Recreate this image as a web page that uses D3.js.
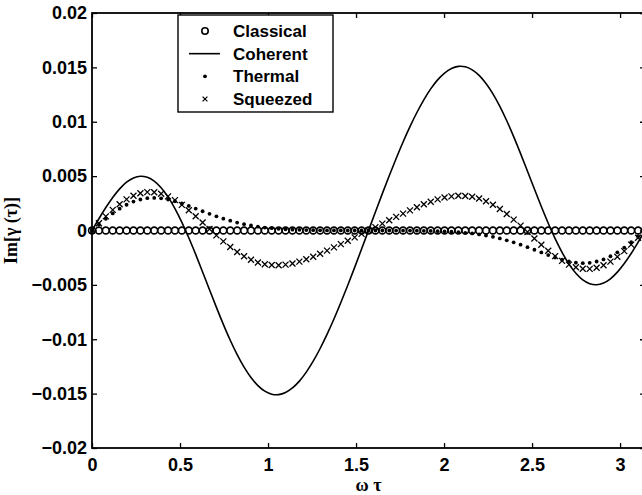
<!DOCTYPE html>
<html lang="en">
<head>
	<meta charset="UTF-8"/>
	<title>Im gamma(tau)</title>
	<script src="https://d3js.org/d3.v7.min.js"></script>
	<style>
	body { margin: 0; background: #fff; }
	.tick text { font-family: "Liberation Sans", Arial, sans-serif; font-weight: bold; font-size: 18px; fill: #000; }
	.tick line { stroke: #000; stroke-width: 1.3px; }
	</style>
</head>
<body>
	<div id="chart"></div>
	<script>

	// sample points: 81 points from 0 to pi
	var tau = d3.range(81).map(function(i) { return i * Math.PI / 80; });

	var classical = [
		0, 0, 0, 0, 0, 0, 0, 0, 0, 0, 0, 0, 0, 0, 0, 0, 0, 0, 0, 0,
		0, 0, 0, 0, 0, 0, 0, 0, 0, 0, 0, 0, 0, 0, 0, 0, 0, 0, 0, 0,
		0, 0, 0, 0, 0, 0, 0, 0, 0, 0, 0, 0, 0, 0, 0, 0, 0, 0, 0, 0,
		0, 0, 0, 0, 0, 0, 0, 0, 0, 0, 0, 0, 0, 0, 0, 0, 0, 0, 0, 0,
		0];

	var coherent = [
		0, 0.00108, 0.00211, 0.00304, 0.00383, 0.00444, 0.00483, 0.00499, 0.00489, 0.00454,
		0.00393, 0.00309, 0.00201, 0.00075, -0.00067, -0.00220, -0.00381, -0.00545, -0.00707, -0.00863,
		-0.01009, -0.01141, -0.01256, -0.01352, -0.01426, -0.01477, -0.01505, -0.01509, -0.01490, -0.01448,
		-0.01385, -0.01302, -0.01202, -0.01085, -0.00955, -0.00814, -0.00662, -0.00503, -0.00339, -0.00170,
		0,
		0.00170, 0.00339, 0.00503, 0.00662, 0.00814, 0.00955, 0.01085, 0.01202, 0.01302, 0.01385,
		0.01448, 0.01490, 0.01509, 0.01505, 0.01477, 0.01426, 0.01352, 0.01256, 0.01141, 0.01009,
		0.00863, 0.00707, 0.00545, 0.00381, 0.00220, 0.00067, -0.00075, -0.00201, -0.00309, -0.00393,
		-0.00454, -0.00489, -0.00499, -0.00483, -0.00444, -0.00383, -0.00304, -0.00211, -0.00108, 0];

	var thermal = [
		0, 0.00055, 0.00108, 0.00157, 0.00201, 0.00237, 0.00266, 0.00285, 0.00297, 0.00300,
		0.00296, 0.00285, 0.00269, 0.00249, 0.00226, 0.00202, 0.00177, 0.00153, 0.00130, 0.00109,
		0.00090, 0.00073, 0.00058, 0.00046, 0.00036, 0.00027, 0.00021, 0.00015, 0.00011, 0.00008,
		0.00006, 0.00004, 0.00003, 0.00002, 0.00001, 0.00001, 0.00001, 0, 0, 0,
		0,
		0, 0, 0, -0.00001, -0.00001, -0.00001, -0.00002, -0.00003, -0.00004, -0.00006,
		-0.00008, -0.00011, -0.00015, -0.00021, -0.00027, -0.00036, -0.00046, -0.00058, -0.00073, -0.00090,
		-0.00109, -0.00130, -0.00153, -0.00177, -0.00202, -0.00226, -0.00249, -0.00269, -0.00285, -0.00296,
		-0.00300, -0.00297, -0.00285, -0.00266, -0.00237, -0.00201, -0.00157, -0.00108, -0.00055, 0];

	var squeezed = [
		0, 0.00066, 0.00130, 0.00190, 0.00242, 0.00286, 0.00319, 0.00342, 0.00353, 0.00351,
		0.00338, 0.00314, 0.00279, 0.00236, 0.00186, 0.00131, 0.00073, 0.00014, -0.00045, -0.00100,
		-0.00152, -0.00198, -0.00237, -0.00269, -0.00294, -0.00310, -0.00318, -0.00320, -0.00314, -0.00303,
		-0.00286, -0.00265, -0.00241, -0.00214, -0.00185, -0.00155, -0.00125, -0.00094, -0.00063, -0.00031,
		0,
		0.00031, 0.00063, 0.00094, 0.00125, 0.00155, 0.00185, 0.00214, 0.00241, 0.00265, 0.00286,
		0.00303, 0.00314, 0.00320, 0.00318, 0.00310, 0.00294, 0.00269, 0.00237, 0.00198, 0.00152,
		0.00100, 0.00045, -0.00014, -0.00073, -0.00131, -0.00186, -0.00236, -0.00279, -0.00314, -0.00338,
		-0.00351, -0.00353, -0.00342, -0.00319, -0.00286, -0.00242, -0.00190, -0.00130, -0.00066, 0];

	var xTicks = [0, 0.5, 1, 1.5, 2, 2.5, 3];
	var yTicks = [-0.02, -0.015, -0.01, -0.005, 0, 0.005, 0.01, 0.015, 0.02];
	var legendLabels = ["Classical", "Coherent", "Thermal", "Squeezed"];

	// size
	var w = 642;
	var h = 495;
	var plotL = 92, plotR = 645, plotT = 13, plotB = 448;

	var xScale = d3.scaleLinear()
					.domain([0, Math.PI])
					.range([plotL, plotR]);

	var yScale = d3.scaleLinear()
					.domain([-0.02, 0.02])
					.range([plotB, plotT]);

	var fmt = d3.format("~g");

	var svg = d3.select("#chart")
			.append("svg")
			.attr("width", w)
			.attr("height", h);

	//Axes (ticks point inward)
	svg.append("g")
		.attr("transform", "translate(0," + plotB + ")")
		.call(d3.axisBottom(xScale).tickValues(xTicks).tickFormat(fmt).tickSize(-5).tickPadding(10));
	svg.append("g")
		.attr("transform", "translate(0," + plotT + ")")
		.call(d3.axisTop(xScale).tickValues(xTicks).tickFormat("").tickSize(-5));
	svg.append("g")
		.attr("transform", "translate(" + plotL + ",0)")
		.call(d3.axisLeft(yScale).tickValues(yTicks).tickFormat(fmt).tickSize(-5).tickPadding(5));
	svg.append("g")
		.attr("transform", "translate(" + plotR + ",0)")
		.call(d3.axisRight(yScale).tickValues(yTicks).tickFormat("").tickSize(-5));
	svg.selectAll(".domain").remove();

	//Frame
	svg.append("rect")
		.attr("x", plotL)
		.attr("y", plotT)
		.attr("width", plotR - plotL)
		.attr("height", plotB - plotT)
		.attr("fill", "none")
		.attr("stroke", "#000")
		.attr("stroke-width", 1.8);

	//Axis titles
	svg.append("text")
		.attr("x", xScale(Math.PI / 2))
		.attr("y", 491)
		.attr("text-anchor", "middle")
		.attr("font-family", "'Liberation Serif', 'Times New Roman', serif")
		.attr("font-weight", "bold")
		.attr("font-size", "18px")
		.text("ω τ");

	svg.append("text")
		.attr("transform", "translate(17," + yScale(0) + ") rotate(-90)")
		.attr("text-anchor", "middle")
		.attr("font-family", "'Liberation Serif', 'Times New Roman', serif")
		.attr("font-weight", "bold")
		.attr("font-size", "18px")
		.text("Im[γ (τ)]");

	var plot = svg.append("g");

	//Classical: circles
	plot.selectAll("circle.classical")
		.data(classical)
		.enter()
		.append("circle")
		.attr("class", "classical")
		.attr("cx", function(d, i) { return xScale(tau[i]); })
		.attr("cy", function(d) { return yScale(d); })
		.attr("r", 3.4)
		.attr("fill", "none")
		.attr("stroke", "#000")
		.attr("stroke-width", 1.6);

	//Coherent: solid line
	var line = d3.line()
		.x(function(d, i) { return xScale(tau[i]); })
		.y(function(d) { return yScale(d); })
		.curve(d3.curveCatmullRom);

	plot.append("path")
		.datum(coherent)
		.attr("d", line)
		.attr("fill", "none")
		.attr("stroke", "#000")
		.attr("stroke-width", 1.6);

	//Thermal: dots
	plot.selectAll("circle.thermal")
		.data(thermal)
		.enter()
		.append("circle")
		.attr("class", "thermal")
		.attr("cx", function(d, i) { return xScale(tau[i]); })
		.attr("cy", function(d) { return yScale(d); })
		.attr("r", 1.9)
		.attr("fill", "#000");

	//Squeezed: crosses
	var cross = "M-3,-3L3,3M-3,3L3,-3";
	plot.selectAll("path.squeezed")
		.data(squeezed)
		.enter()
		.append("path")
		.attr("class", "squeezed")
		.attr("transform", function(d, i) { return "translate(" + xScale(tau[i]) + "," + yScale(d) + ")"; })
		.attr("d", cross)
		.attr("stroke", "#000")
		.attr("stroke-width", 1.3);

	//Legend
	var lx = 178, ly = 15, lw = 155, lh = 97;
	var legend = svg.append("g");
	legend.append("rect")
		.attr("x", lx)
		.attr("y", ly)
		.attr("width", lw)
		.attr("height", lh)
		.attr("fill", "#fff")
		.attr("stroke", "#000")
		.attr("stroke-width", 1.4);

	var rowY = d3.scaleLinear().domain([0, 3]).range([31, 99]);
	var markX = 205;

	legend.append("circle")
		.attr("cx", markX).attr("cy", rowY(0)).attr("r", 3.2)
		.attr("fill", "none").attr("stroke", "#000").attr("stroke-width", 1.6);
	legend.append("line")
		.attr("x1", 189).attr("x2", 220)
		.attr("y1", rowY(1)).attr("y2", rowY(1))
		.attr("stroke", "#000").attr("stroke-width", 1.6);
	legend.append("circle")
		.attr("cx", markX).attr("cy", rowY(2)).attr("r", 1.9)
		.attr("fill", "#000");
	legend.append("path")
		.attr("transform", "translate(" + markX + "," + rowY(3) + ") scale(0.8)")
		.attr("d", cross)
		.attr("stroke", "#000").attr("stroke-width", 1.5);

	legend.selectAll("text")
		.data(legendLabels)
		.enter()
		.append("text")
		.attr("x", 233)
		.attr("y", function(d, i) { return rowY(i); })
		.attr("dy", "0.36em")
		.attr("font-family", "'Liberation Sans', Arial, sans-serif")
		.attr("font-weight", "bold")
		.attr("font-size", "17px")
		.text(function(d) { return d; });

	</script>
</body>
</html>
